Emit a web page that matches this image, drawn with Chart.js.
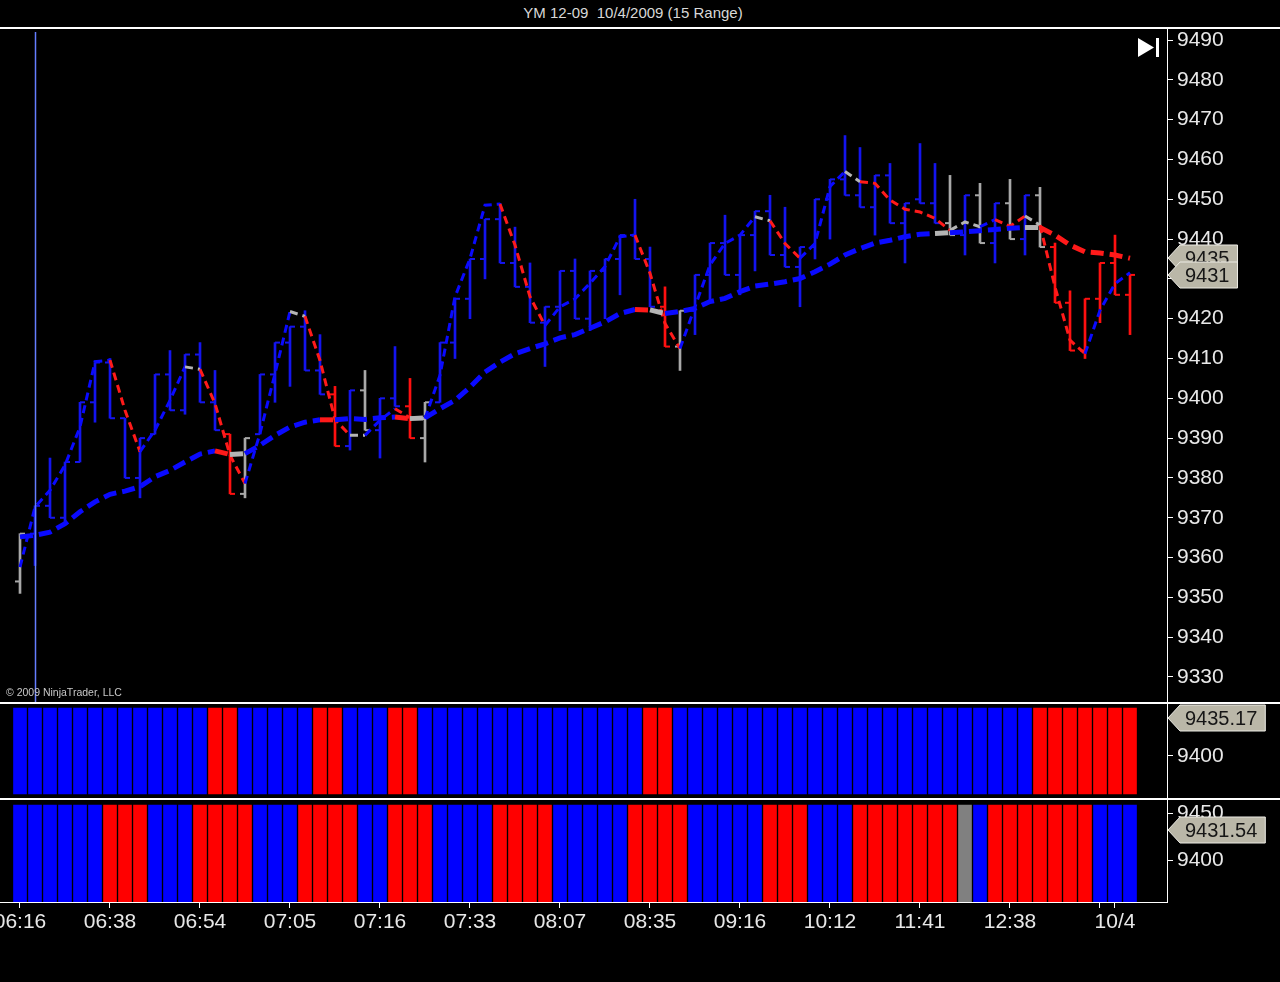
<!DOCTYPE html>
<html>
<head>
<meta charset="utf-8">
<title>YM 12-09  10/4/2009 (15 Range)</title>
<script src="https://cdn.jsdelivr.net/npm/chart.js@4.4.0/dist/chart.umd.min.js"></script>
<style>
  html, body { margin: 0; padding: 0; background: #000; }
  #wrap { position: relative; width: 1280px; height: 982px; overflow: hidden; background: #000;
          font-family: "Liberation Sans", Arial, sans-serif; }
  canvas { position: absolute; left: 0; }
  #title { position: absolute; top: 4px; left: 519px; width: 228px; text-align: center;
           color: #d8d8d8; font-size: 15px; white-space: pre; }
  #copy { position: absolute; left: 6px; top: 686px; color: #c8c8c8; font-size: 10.5px; }
</style>
</head>
<body>
<div id="wrap">
  <div id="title">YM 12-09  10/4/2009 (15 Range)</div>
  <canvas id="priceChart" width="1280" height="675" style="top:27px"></canvas>
  <canvas id="upperChart" width="1280" height="96" style="top:702px"></canvas>
  <canvas id="lowerChart" width="1280" height="184" style="top:798px"></canvas>
  <div id="copy">&copy; 2009 NinjaTrader, LLC</div>
</div>
<script>
"use strict";

// ---- data (75 range bars) ----

const lows = [
  9351, 9358, 9370, 9369, 9384, 9394, 9395, 9380, 9375, 9391,
  9397, 9396, 9399, 9392, 9376, 9375, 9391, 9399, 9403, 9407,
  9401, 9388, 9387, 9392, 9385, 9398, 9390, 9384, 9399, 9410,
  9420, 9430, 9434, 9428, 9419, 9408, 9417, 9420, 9417, 9420,
  9426, 9435, 9423, 9413, 9407, 9416, 9424, 9431, 9426, 9432,
  9436, 9433, 9423, 9435, 9440, 9451, 9448, 9441, 9444, 9434,
  9449, 9444, 9441, 9436, 9439, 9434, 9440, 9436, 9438, 9424,
  9412, 9410, 9419, 9426, 9416
];

const highs = [
  9366, 9373, 9385, 9384, 9399, 9409, 9410, 9395, 9390, 9406,
  9412, 9411, 9414, 9407, 9391, 9390, 9406, 9414, 9418, 9422,
  9416, 9403, 9402, 9407, 9400, 9413, 9405, 9399, 9414, 9425,
  9435, 9445, 9449, 9443, 9434, 9423, 9432, 9435, 9432, 9435,
  9441, 9450, 9438, 9428, 9422, 9431, 9439, 9446, 9441, 9447,
  9451, 9448, 9438, 9450, 9455, 9466, 9463, 9456, 9459, 9449,
  9464, 9459, 9456, 9451, 9454, 9449, 9455, 9451, 9453, 9439,
  9427, 9425, 9434, 9441, 9431
];

const opens = [
  9354, 9366, 9373, 9370, 9384, 9399, 9409, 9395, 9380, 9391,
  9406, 9397, 9411, 9399, 9391, 9376, 9391, 9406, 9414, 9418,
  9407, 9401, 9388, 9402, 9392, 9400, 9398, 9390, 9399, 9414,
  9425, 9435, 9445, 9434, 9428, 9419, 9423, 9432, 9420, 9432,
  9435, 9441, 9435, 9423, 9413, 9422, 9431, 9439, 9431, 9441,
  9447, 9436, 9433, 9438, 9450, 9455, 9451, 9448, 9456, 9444,
  9450, 9449, 9444, 9441, 9451, 9439, 9449, 9440, 9451, 9438,
  9424, 9412, 9425, 9434, 9426
];

const closes = [
  9366, 9373, 9370, 9384, 9399, 9409, 9395, 9380, 9390, 9406,
  9397, 9411, 9399, 9392, 9376, 9390, 9406, 9414, 9418, 9407,
  9401, 9388, 9402, 9392, 9400, 9398, 9390, 9399, 9414, 9425,
  9435, 9445, 9434, 9428, 9419, 9423, 9432, 9420, 9432, 9435,
  9441, 9435, 9423, 9413, 9422, 9431, 9439, 9431, 9441, 9447,
  9436, 9433, 9438, 9450, 9455, 9451, 9448, 9456, 9444, 9449,
  9449, 9444, 9441, 9451, 9439, 9449, 9440, 9451, 9438, 9424,
  9412, 9425, 9434, 9426, 9431
];

// fast moving average (thin dashed line)
const fastMA = [
  9357.6, 9372.7, 9376.9, 9383.2, 9392.8, 9409.2, 9409.6, 9397.0, 9386.6, 9392.0,
  9399.5, 9407.9, 9407.3, 9398.7, 9385.7, 9378.6, 9391.2, 9406.2, 9421.8, 9420.6,
  9409.5, 9394.7, 9390.7, 9390.7, 9394.5, 9397.4, 9395.1, 9394.9, 9405.8, 9425.5,
  9435.1, 9448.5, 9448.8, 9438.5, 9425.5, 9418.3, 9423.0, 9425.0, 9428.9, 9433.1,
  9440.6, 9441.0, 9431.4, 9418.8, 9412.5, 9423.0, 9433.5, 9438.9, 9441.0, 9445.6,
  9444.6, 9438.9, 9435.2, 9438.9, 9453.2, 9457.0, 9454.4, 9454.0, 9449.8, 9447.5,
  9446.8, 9445.2, 9442.2, 9444.3, 9443.1, 9444.9, 9443.2, 9445.8, 9443.5, 9428.0,
  9414.6, 9411.2, 9422.1, 9428.8, 9431.54
];

// slow moving average (thick dashed line)
const slowMA = [
  9365.2, 9365.6, 9366.4, 9368.5, 9371.5, 9374.0, 9375.9, 9376.7, 9377.8, 9380.3,
  9381.9, 9384.0, 9386.0, 9386.8, 9385.9, 9386.1, 9388.2, 9390.7, 9392.8, 9394.0,
  9394.6, 9394.6, 9394.9, 9394.7, 9395.1, 9395.3, 9394.9, 9395.1, 9397.4, 9399.5,
  9402.8, 9406.6, 9409.1, 9411.2, 9412.5, 9413.7, 9415.2, 9416.0, 9417.6, 9419.2,
  9421.3, 9422.3, 9422.2, 9421.3, 9421.8, 9422.6, 9424.3, 9425.1, 9426.8, 9428.2,
  9428.7, 9429.3, 9430.1, 9431.8, 9433.7, 9436.0, 9437.6, 9439.0, 9439.7, 9440.6,
  9441.2, 9441.4, 9441.6, 9441.8, 9442.1, 9442.4, 9442.7, 9442.9, 9442.9, 9441.0,
  9438.5, 9436.8, 9436.5, 9436.0, 9435.17
];

// colour codes per bar: b = blue, r = red, g = gray (spaces only group the letters)
const barColors   = 'g bbbbb bbbbb bbb r g bbbbb r b g bb r g bbbbb bbbbb bbbbb r g bbbbb bbbbb bbbbb bb g b g b g b g rrrrr r'.replace(/ /g, '').split('');
const fastColors  = 'bbbbb bb rr bbb g rrr bbb g rrr g bb r g bbbbb rrr bbbbb b rrr bbbbb g rr bbb g rrrrr r gg b rr g rrr bbb'.replace(/ /g, '').split('');
const slowColors  = 'bbbbb bbbbb bbbb r g bbbbb r bbbb r g bbbbb bbbbb bbbb r g bbbbb bbbbb bbbbb bbb g bbbbb g rrrrr r'.replace(/ /g, '').split('');
const upperStates = 'bbbbb bbbbb bbb rr bbbbb rr bbb rr bbbbb bbbbb bbbbb rr bbbbb bbbbb bbbbb bbbbb bbbb rrrrr rr'.replace(/ /g, '').split('');
const lowerStates = 'bbbbb b rrr bbb rrrr bbb rrrr bb rrr bbbb rrrr bbbbb rrrr bbbbb rrr bbb rrrrr rr g b rrrrr rr bbb'.replace(/ /g, '').split('');

// time axis
const tickIndex  = [0, 6, 12, 18, 24, 30, 36, 42, 48, 54, 60, 66, 72, 73];
const tickLabels = ['06:16', '06:38', '06:54', '07:05', '07:16', '07:33', '08:07', '08:35', '09:16', '10:12', '11:41', '12:38', '', '10/4'];

// price axes
const priceTicks = [9330, 9340, 9350, 9360, 9370, 9380, 9390, 9400, 9410, 9420, 9430, 9440, 9450, 9460, 9470, 9480, 9490];
const upperTicks = [9400];
const lowerTicks = [9400, 9450];

// indicator panel values shown in the tags
const upperValue = 9435.17;
const lowerValue = 9431.54;

const cursorBar = 1;   // vertical marker line


// ---- look ----

const FONT = '"Liberation Sans", Arial, sans-serif';
const X_MIN = -4 / 3, X_MAX = 76.4667;   // 15 px per bar over the 1167 px plot
const AXIS_W = 113;

const mainPalette  = { b: '#1414ee', r: '#ff1010', g: '#a8a8a8' };
const linePalette  = { b: '#0a0aff', r: '#ff1a1a', g: '#b4b4b4' };
const panelPalette = { b: '#0000ff', r: '#ff0000', g: '#808080' };

const idx = lows.map(function(_v, _i) { return _i; });


// right hand price axis, shared by the three panes
function priceAxis(_min, _max, _ticks) {
  return {
    type: 'linear',
    position: 'right',
    min: _min,
    max: _max,
    afterBuildTicks: function(_s) { _s.ticks = _ticks.map(function(_v) { return { value: _v }; }); },
    afterFit: function(_s) { _s.width = AXIS_W; _s.paddingTop = 0; _s.paddingBottom = 0; },
    grid: { drawOnChartArea: false, drawTicks: true, tickLength: 6, tickWidth: 1, color: '#ffffff' },
    border: { display: true, color: '#ffffff', width: 1 },
    ticks: {
      color: '#e8e8e8',
      font: { family: FONT, size: 21 },
      padding: 4,
      callback: function(_v) { return String(_v); }
    }
  };
}

function hiddenTimeAxis() {
  return { type: 'linear', min: X_MIN, max: X_MAX, offset: false, display: false, grid: { offset: false } };
}

const baseOptions = {
  responsive: false,
  animation: false,
  events: [],
  layout: { padding: 0, autoPadding: false },
  plugins: { legend: { display: false }, tooltip: { enabled: false } }
};


// white separator line at the top of each pane
const framePlugin = {
  id: 'frame',
  afterDraw: function(_chart) {
    const _ctx = _chart.ctx;
    _ctx.save();
    _ctx.strokeStyle = '#ffffff';
    _ctx.lineWidth = 2;
    _ctx.beginPath();
    _ctx.moveTo(0, 1);
    _ctx.lineTo(_chart.width, 1);
    _ctx.stroke();
    _ctx.restore();
  }
};

// value tags on the price axis
function drawTag(_chart, _value, _text) {
  const _ctx = _chart.ctx;
  const _y = Math.round(_chart.scales.y.getPixelForValue(_value));
  const _x0 = _chart.chartArea.right + 1;
  _ctx.save();
  _ctx.font = '20px ' + FONT;
  const _w = _ctx.measureText(_text).width;
  const _h = 26, _notch = 12;
  const _x1 = _x0 + _notch, _x2 = _x1 + 5 + _w + 8;
  _ctx.beginPath();
  _ctx.moveTo(_x0, _y);
  _ctx.lineTo(_x1, _y - _h / 2);
  _ctx.lineTo(_x2, _y - _h / 2);
  _ctx.lineTo(_x2, _y + _h / 2);
  _ctx.lineTo(_x1, _y + _h / 2);
  _ctx.closePath();
  _ctx.fillStyle = '#bab7a8';
  _ctx.fill();
  _ctx.strokeStyle = '#ecebe4';
  _ctx.lineWidth = 1;
  _ctx.stroke();
  _ctx.fillStyle = '#161616';
  _ctx.textBaseline = 'middle';
  _ctx.fillText(_text, _x1 + 5, _y + 1);
  _ctx.restore();
}

function tagPlugin(_tags) {
  return {
    id: 'tags',
    afterDraw: function(_chart) {
      _tags.forEach(function(_t) { drawTag(_chart, _t.value, _t.text); });
    }
  };
}

// vertical marker line and the "go to end" icon of the price pane
const markerPlugin = {
  id: 'marker',
  afterDatasetsDraw: function(_chart) {
    const _ctx = _chart.ctx;
    const _area = _chart.chartArea;
    const _x = Math.round(_chart.scales.x.getPixelForValue(cursorBar)) + 0.5;
    _ctx.save();
    _ctx.strokeStyle = 'rgb(100,125,255)';
    _ctx.lineWidth = 1.5;
    _ctx.beginPath();
    _ctx.moveTo(_x, _area.top + 5);
    _ctx.lineTo(_x, _area.bottom);
    _ctx.stroke();

    // |> icon
    const _r = _area.right;
    _ctx.fillStyle = '#ffffff';
    _ctx.beginPath();
    _ctx.moveTo(_r - 29, 11);
    _ctx.lineTo(_r - 13, 20.5);
    _ctx.lineTo(_r - 29, 30);
    _ctx.closePath();
    _ctx.fill();
    _ctx.fillRect(_r - 11, 11, 3, 19);
    _ctx.restore();
  }
};


// ---- price pane ----

const lastSlow = slowMA[slowMA.length - 1];
const lastClose = closes[closes.length - 1];

new Chart(document.getElementById('priceChart'), {
  type: 'bar',
  data: {
    datasets: [
      {
        label: 'SlowMA',
        type: 'line',
        order: 0,
        data: idx.map(function(_i) { return { x: _i, y: slowMA[_i] }; }),
        borderWidth: 5,
        borderDash: [13, 6],
        borderCapStyle: 'butt',
        tension: 0,
        pointRadius: 0,
        borderColor: linePalette.b,
        segment: { borderColor: function(_c) { return linePalette[slowColors[_c.p1DataIndex]]; } }
      },
      {
        label: 'FastMA',
        type: 'line',
        order: 1,
        data: idx.map(function(_i) { return { x: _i, y: fastMA[_i] }; }),
        borderWidth: 3,
        borderDash: [8, 5],
        borderCapStyle: 'butt',
        tension: 0,
        pointRadius: 0,
        borderColor: linePalette.b,
        segment: { borderColor: function(_c) { return linePalette[fastColors[_c.p1DataIndex]]; } }
      },
      {
        label: 'Open',
        type: 'line',
        order: 2,
        showLine: false,
        data: idx.map(function(_i) { return { x: _i, y: opens[_i] }; }),
        pointStyle: 'dash',
        pointRotation: 180,
        pointRadius: 5,
        pointHoverRadius: 5,
        pointBorderWidth: 2,
        pointBorderColor: barColors.map(function(_c) { return mainPalette[_c]; }),
        pointBackgroundColor: barColors.map(function(_c) { return mainPalette[_c]; })
      },
      {
        label: 'Close',
        type: 'line',
        order: 2,
        showLine: false,
        data: idx.map(function(_i) { return { x: _i, y: closes[_i] }; }),
        pointStyle: 'dash',
        pointRotation: 0,
        pointRadius: 5,
        pointHoverRadius: 5,
        pointBorderWidth: 2,
        pointBorderColor: barColors.map(function(_c) { return mainPalette[_c]; }),
        pointBackgroundColor: barColors.map(function(_c) { return mainPalette[_c]; })
      },
      {
        label: 'Range',
        type: 'bar',
        order: 3,
        grouped: false,
        data: idx.map(function(_i) { return { x: _i, y: [lows[_i], highs[_i]] }; }),
        barThickness: 2,
        borderWidth: 0,
        backgroundColor: barColors.map(function(_c) { return mainPalette[_c]; })
      }
    ]
  },
  options: Object.assign({}, baseOptions, {
    scales: {
      x: hiddenTimeAxis(),
      y: priceAxis(9323.72, 9493.27, priceTicks)
    }
  }),
  plugins: [framePlugin, markerPlugin, tagPlugin([
    { value: lastSlow, text: Math.round(lastSlow).toString() },
    { value: lastClose, text: lastClose.toString() }
  ])]
});


// ---- upper colour bar pane ----

new Chart(document.getElementById('upperChart'), {
  type: 'bar',
  data: {
    datasets: [{
      label: 'Slow trend',
      data: idx.map(function(_i) { return { x: _i, y: [9365.1, 9444.1] }; }),
      barThickness: 13,
      borderWidth: 0,
      grouped: false,
      backgroundColor: upperStates.map(function(_c) { return panelPalette[_c]; })
    }]
  },
  options: Object.assign({}, baseOptions, {
    scales: {
      x: hiddenTimeAxis(),
      y: priceAxis(9361.4, 9449.6, upperTicks)
    }
  }),
  plugins: [framePlugin, tagPlugin([{ value: upperValue, text: upperValue.toFixed(2) }])]
});


// ---- lower colour bar pane with the time axis ----

new Chart(document.getElementById('lowerChart'), {
  type: 'bar',
  data: {
    datasets: [{
      label: 'Fast trend',
      data: idx.map(function(_i) { return { x: _i, y: [9355.3, 9458.5] }; }),
      barThickness: 13,
      borderWidth: 0,
      grouped: false,
      backgroundColor: lowerStates.map(function(_c) { return panelPalette[_c]; })
    }]
  },
  options: Object.assign({}, baseOptions, {
    scales: {
      x: {
        type: 'linear',
        position: 'bottom',
        min: X_MIN,
        max: X_MAX,
        offset: false,
        afterBuildTicks: function(_s) { _s.ticks = tickIndex.map(function(_v) { return { value: _v }; }); },
        afterFit: function(_s) { _s.height = 80; _s.paddingLeft = 0; _s.paddingRight = 0; },
        grid: { offset: false, drawOnChartArea: false, drawTicks: true, tickLength: 6, color: '#ffffff' },
        border: { display: true, color: '#ffffff', width: 1 },
        ticks: {
          autoSkip: false,
          maxRotation: 0,
          padding: 2,
          color: '#e8e8e8',
          font: { family: FONT, size: 21 },
          callback: function(_v, _i) { return tickLabels[_i]; }
        }
      },
      y: priceAxis(9355.3, 9466.0, lowerTicks)
    }
  }),
  plugins: [framePlugin, tagPlugin([{ value: lowerValue, text: lowerValue.toFixed(2) }])]
});
</script>
</body>
</html>
